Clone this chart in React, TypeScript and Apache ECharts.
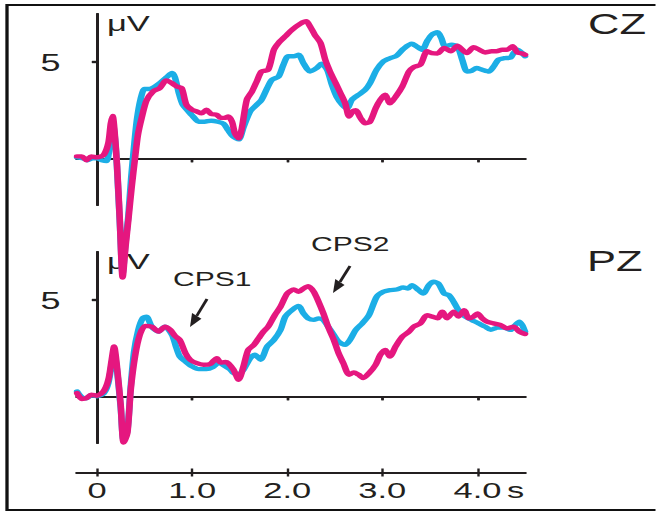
import { useEffect, useRef } from 'react';
import * as echarts from 'echarts';

// The reference figure is horizontally stretched; we draw at 1/SX width and stretch with CSS.
const SX = 1.5;
const W = 656;
const H = 512;
const CW = W / SX;

const BLUE = '#1caee6';
const MAGENTA = '#e5177f';
const INK = '#231f20';
const FONT = 'Liberation Sans, Arial, Helvetica, sans-serif';

const timeRange = [-0.21, 4.5];
const voltRange = [-2.43, 7.5];
const timeTicks = [0, 1, 2, 3, 4];
const panelTimeTicks = [1, 2, 3, 4];
const timeTickLabels = ['0', '1.0', '2.0', '3.0', '4.0'];
const voltTicks = [5];
const panelNames = ['CZ', 'PZ'];
const annotations = ['CPS1', 'CPS2'];
const unitLabel = 'μV';
const timeUnit = 's';

// [time (s), amplitude (µV)]
const czBlue = [
  [-0.21, 0.05], [-0.15, 0.0], [-0.1, -0.1], [-0.05, 0.0], [0, 0.0], [0.05, -0.1], [0.1, -0.15], [0.13, 0.5],
  [0.165, 1.9], [0.19, 1.0], [0.21, -0.4], [0.24, -3.3], [0.27, -6.0], [0.3, -4.4], [0.33, -3.0], [0.36, -1.0],
  [0.39, 0.6], [0.42, 2.0], [0.46, 3.1], [0.5, 3.6], [0.55, 3.6], [0.6, 3.7], [0.66, 3.9], [0.73, 4.2],
  [0.79, 4.43], [0.82, 4.2], [0.86, 3.4], [0.9, 2.8], [0.95, 2.5], [1.01, 2.17], [1.07, 1.9], [1.13, 1.9],
  [1.2, 1.95], [1.27, 1.9], [1.33, 1.8], [1.38, 1.45], [1.43, 1.13], [1.49, 0.98], [1.54, 1.6], [1.61, 2.43],
  [1.68, 2.78], [1.73, 3.04], [1.79, 3.65], [1.84, 4.08], [1.91, 4.25], [1.96, 4.86], [2.01, 5.3], [2.07, 5.3],
  [2.12, 5.38], [2.17, 4.95], [2.24, 4.51], [2.31, 4.69], [2.36, 4.91], [2.42, 4.6], [2.47, 3.82], [2.52, 3.2],
  [2.58, 2.78], [2.63, 2.6], [2.68, 3.04], [2.75, 3.3], [2.82, 3.56], [2.87, 3.9], [2.94, 4.6], [3.01, 5.03],
  [3.08, 5.2], [3.15, 5.33], [3.22, 5.68], [3.31, 5.95], [3.36, 5.82], [3.42, 5.64], [3.47, 6.08], [3.52, 6.42],
  [3.58, 6.55], [3.62, 6.25], [3.66, 5.82], [3.73, 5.9], [3.79, 5.82], [3.84, 5.12], [3.89, 4.51], [3.94, 4.55],
  [3.99, 4.69], [4.05, 4.6], [4.12, 4.51], [4.17, 4.77], [4.22, 5.12], [4.28, 5.2], [4.35, 5.24], [4.38, 5.47],
  [4.42, 5.64], [4.47, 5.47], [4.5, 5.3],
];

const czMagenta = [
  [-0.21, 0.1], [-0.16, 0.1], [-0.11, -0.1], [-0.06, 0.1], [0, 0.05], [0.07, 0.17], [0.12, 0.8], [0.145, 1.8],
  [0.165, 2.2], [0.185, 1.4], [0.21, -0.3], [0.24, -3.2], [0.27, -6.2], [0.3, -4.6], [0.33, -3.2], [0.365, -1.5],
  [0.4, 0.0], [0.43, 1.2], [0.47, 2.1], [0.52, 3.0], [0.59, 3.47], [0.66, 3.65], [0.73, 4.05], [0.79, 3.9],
  [0.84, 3.73], [0.89, 3.65], [0.94, 2.78], [1.0, 2.52], [1.05, 2.43], [1.1, 2.34], [1.15, 2.52], [1.2, 2.3],
  [1.26, 2.26], [1.3, 2.1], [1.34, 2.1], [1.38, 2.17], [1.42, 1.9], [1.45, 1.3], [1.49, 1.04], [1.52, 1.48],
  [1.575, 3.04], [1.63, 3.47], [1.68, 4.0], [1.73, 4.51], [1.8, 4.6], [1.86, 5.64], [1.91, 6.0], [1.98, 6.34],
  [2.05, 6.68], [2.14, 7.0], [2.2, 7.12], [2.24, 6.86], [2.29, 6.42], [2.35, 6.0], [2.4, 5.12], [2.45, 4.51],
  [2.51, 3.9], [2.56, 3.39], [2.61, 2.86], [2.65, 2.17], [2.69, 2.45], [2.72, 2.5], [2.77, 2.1], [2.82, 1.82],
  [2.87, 1.9], [2.93, 2.6], [2.98, 3.04], [3.03, 3.3], [3.08, 2.86], [3.14, 3.2], [3.21, 3.73], [3.28, 4.51],
  [3.33, 4.74], [3.4, 4.86], [3.47, 5.56], [3.52, 5.47], [3.58, 5.45], [3.65, 5.73], [3.72, 5.56], [3.79, 5.85],
  [3.84, 5.64], [3.89, 5.47], [3.96, 5.78], [4.02, 5.64], [4.08, 5.5], [4.15, 5.56], [4.2, 5.56], [4.26, 5.64],
  [4.31, 5.64], [4.37, 5.82], [4.42, 5.5], [4.47, 5.45], [4.5, 5.38],
];

const pzBlue = [
  [-0.21, 0.25], [-0.16, -0.05], [-0.11, -0.1], [-0.06, 0.05], [0, 0.0], [0.07, 0.15], [0.12, 0.7], [0.155, 1.7],
  [0.18, 2.3], [0.21, 1.4], [0.25, -0.6], [0.28, -2.3], [0.32, -1.8], [0.355, 0.5], [0.39, 2.3], [0.435, 3.45],
  [0.48, 4.05], [0.52, 4.14], [0.575, 3.62], [0.645, 3.36], [0.715, 3.62], [0.79, 3.19], [0.83, 2.59], [0.87, 2.07],
  [0.93, 1.81], [1.0, 1.55], [1.07, 1.41], [1.15, 1.41], [1.22, 1.52], [1.28, 1.75], [1.35, 1.55], [1.4, 1.4],
  [1.435, 1.21], [1.49, 1.12], [1.54, 1.38], [1.61, 1.98], [1.66, 2.16], [1.72, 1.9], [1.79, 2.59], [1.86, 2.93],
  [1.93, 3.45], [1.98, 4.14], [2.05, 4.48], [2.12, 4.69], [2.17, 4.31], [2.22, 4.05], [2.28, 3.97], [2.33, 4.05],
  [2.38, 3.97], [2.43, 3.62], [2.49, 3.19], [2.54, 2.84], [2.61, 2.67], [2.66, 2.93], [2.72, 3.45], [2.79, 3.79],
  [2.86, 4.22], [2.94, 5.17], [3.01, 5.43], [3.08, 5.52], [3.15, 5.55], [3.22, 5.66], [3.27, 5.6], [3.31, 5.78],
  [3.38, 5.52], [3.43, 5.34], [3.49, 5.78], [3.54, 5.95], [3.59, 5.86], [3.65, 5.34], [3.7, 5.26], [3.75, 4.91],
  [3.8, 4.48], [3.87, 4.14], [3.94, 3.97], [4.01, 3.79], [4.08, 3.62], [4.14, 3.45], [4.21, 3.57], [4.28, 3.57],
  [4.35, 3.45], [4.4, 3.71], [4.44, 3.88], [4.47, 3.7], [4.5, 3.36],
];

const pzMagenta = [
  [-0.21, 0.17], [-0.16, -0.14], [-0.11, -0.1], [-0.06, 0.08], [0, 0.03], [0.07, 0.26], [0.12, 0.86], [0.155, 1.9],
  [0.18, 2.59], [0.21, 1.55], [0.25, -0.5], [0.28, -2.41], [0.32, -1.9], [0.355, 0.34], [0.4, 2.07], [0.45, 3.19],
  [0.505, 3.66], [0.575, 3.62], [0.645, 3.36], [0.715, 3.62], [0.77, 3.45], [0.82, 3.14], [0.87, 2.93], [0.93, 2.24],
  [0.98, 1.9], [1.05, 1.72], [1.12, 1.64], [1.19, 1.68], [1.26, 1.98], [1.3, 1.75], [1.35, 1.78], [1.38, 1.72],
  [1.435, 1.38], [1.49, 0.86], [1.54, 1.55], [1.59, 2.41], [1.65, 2.67], [1.7, 3.02], [1.75, 3.36], [1.8, 3.62],
  [1.87, 4.22], [1.93, 4.66], [2.0, 5.34], [2.07, 5.55], [2.12, 5.43], [2.17, 5.6], [2.22, 5.72], [2.28, 5.43],
  [2.33, 4.91], [2.38, 4.31], [2.43, 3.62], [2.49, 2.93], [2.54, 2.24], [2.59, 1.72], [2.65, 1.12], [2.7, 1.24],
  [2.75, 1.12], [2.8, 0.95], [2.86, 1.2], [2.93, 1.64], [2.98, 2.16], [3.03, 2.41], [3.08, 2.07], [3.14, 2.59],
  [3.21, 3.1], [3.28, 3.36], [3.33, 3.62], [3.4, 3.79], [3.47, 4.22], [3.52, 4.15], [3.58, 4.05], [3.63, 4.4],
  [3.68, 4.05], [3.75, 4.4], [3.8, 4.14], [3.86, 4.48], [3.91, 4.05], [3.96, 4.14], [4.0, 4.31], [4.05, 4.05],
  [4.1, 3.88], [4.17, 3.79], [4.24, 3.71], [4.31, 3.53], [4.38, 3.62], [4.44, 3.36], [4.5, 3.24],
];

function arrow(tail: number[], tip: number[]) {
  // computed in screen units, converted to chart units
  const dx = tip[0] - tail[0];
  const dy = tip[1] - tail[1];
  const len = Math.hypot(dx, dy);
  const ux = dx / len;
  const uy = dy / len;
  const L = 13;
  const Wd = 5.5;
  const bx = tip[0] - ux * L;
  const by = tip[1] - uy * L;
  const p1 = [bx - uy * Wd, by + ux * Wd];
  const p2 = [bx + uy * Wd, by - ux * Wd];
  return [
    {
      type: 'line',
      shape: { x1: tail[0] / SX, y1: tail[1], x2: bx / SX, y2: by },
      style: { stroke: INK, lineWidth: 2 },
    },
    {
      type: 'polygon',
      shape: { points: [[tip[0] / SX, tip[1]], [p1[0] / SX, p1[1]], [p2[0] / SX, p2[1]]] },
      style: { fill: INK },
    },
  ];
}

export default function App() {
  const ref = useRef<HTMLDivElement>(null);

  useEffect(() => {
    if (!ref.current) return;
    const chart = echarts.init(ref.current, undefined, { renderer: 'svg' });

    const gridLeft = 77 / SX;
    const gridWidth = (525 - 77) / SX;

    const panelX = (gridIndex: number, inside: boolean) => ({
      type: 'value',
      gridIndex,
      min: timeRange[0],
      max: timeRange[1],
      axisLine: { show: true, onZero: true, lineStyle: { color: INK, width: 2.2 } },
      axisTick: { show: true, inside, length: 4, customValues: panelTimeTicks, lineStyle: { color: INK, width: 1.6 } },
      axisLabel: { show: false },
      splitLine: { show: false },
    });
    const panelY = (gridIndex: number, inside: boolean) => ({
      type: 'value',
      gridIndex,
      min: voltRange[0],
      max: voltRange[1],
      axisLine: { show: true, onZero: true, lineStyle: { color: INK, width: 2 } },
      axisTick: { show: true, inside, length: 3.4, customValues: voltTicks, lineStyle: { color: INK, width: 2.2 } },
      axisLabel: inside
        ? { show: false }
        : { show: true, customValues: voltTicks, margin: 11, fontSize: 24, color: INK, fontFamily: FONT },
      splitLine: { show: false },
    });
    const bottomX = (inside: boolean) => ({
      type: 'value',
      gridIndex: 2,
      position: 'bottom',
      min: timeRange[0],
      max: timeRange[1],
      axisLine: { show: true, onZero: false, lineStyle: { color: INK, width: 2.2 } },
      axisTick: { show: true, inside, length: 4, customValues: timeTicks, lineStyle: { color: INK, width: 1.6 } },
      axisLabel: inside
        ? { show: false }
        : {
            show: true,
            customValues: timeTicks,
            margin: 6,
            fontSize: 23,
            color: INK,
            fontFamily: FONT,
            formatter: (v: number) => {
              const i = timeTicks.indexOf(v);
              return i >= 0 ? timeTickLabels[i] : '';
            },
          },
      splitLine: { show: false },
    });

    const lineSeries = (data: number[][], color: string, axis: number) => ({
      type: 'line',
      data,
      xAxisIndex: axis,
      yAxisIndex: axis,
      showSymbol: false,
      symbol: 'none',
      smooth: 0.25,
      clip: false,
      lineStyle: { color, width: 4.4, cap: 'round', join: 'round' },
    });

    const textStyle = (text: string, size: number) => ({
      text,
      fontSize: size,
      fontFamily: FONT,
      fill: INK,
      align: 'left',
      verticalAlign: 'top',
    });

    chart.setOption({
      animation: false,
      backgroundColor: '#ffffff',
      grid: [
        { left: gridLeft, width: gridWidth, top: 14, height: 191 },
        { left: gridLeft, width: gridWidth, top: 252, height: 191 },
        { left: gridLeft, width: gridWidth, top: 471, height: 1.5 },
      ],
      xAxis: [panelX(0, false), panelX(0, true), panelX(1, false), panelX(1, true), bottomX(false), bottomX(true)],
      yAxis: [
        panelY(0, false),
        panelY(0, true),
        panelY(1, false),
        panelY(1, true),
        { type: 'value', gridIndex: 2, show: false, min: 0, max: 1 },
      ],
      series: [
        lineSeries(czBlue, BLUE, 0),
        lineSeries(czMagenta, MAGENTA, 0),
        lineSeries(pzBlue, BLUE, 2),
        lineSeries(pzMagenta, MAGENTA, 2),
      ],
      graphic: [
        {
          type: 'rect',
          silent: true,
          shape: { x: 7 / SX, y: 5, width: 700 / SX, height: 505 },
          style: { fill: 'none', stroke: '#111', lineWidth: 2.2 },
        },
        { type: 'text', x: 107 / SX, y: 11, style: textStyle(unitLabel, 23) },
        { type: 'text', x: 107 / SX, y: 249, style: textStyle(unitLabel, 23) },
        { type: 'text', x: 588 / SX, y: 9.5, style: textStyle(panelNames[0], 29) },
        { type: 'text', x: 587 / SX, y: 246.5, style: textStyle(panelNames[1], 29) },
        { type: 'text', x: 173 / SX, y: 269, style: textStyle(annotations[0], 20) },
        { type: 'text', x: 311 / SX, y: 234, style: textStyle(annotations[1], 20) },
        { type: 'text', x: 507 / SX, y: 478.5, style: textStyle(timeUnit, 23) },
        ...arrow([207, 299], [190, 327]),
        ...arrow([350, 266], [333, 293]),
      ],
    });

    return () => chart.dispose();
  }, []);

  return (
    <div style={{ position: 'fixed', left: 0, top: 0, width: W, height: H, overflow: 'hidden', background: '#fff' }}>
      <div
        ref={ref}
        style={{ width: CW, height: H, transform: `scaleX(${SX})`, transformOrigin: '0 0' }}
      />
    </div>
  );
}
